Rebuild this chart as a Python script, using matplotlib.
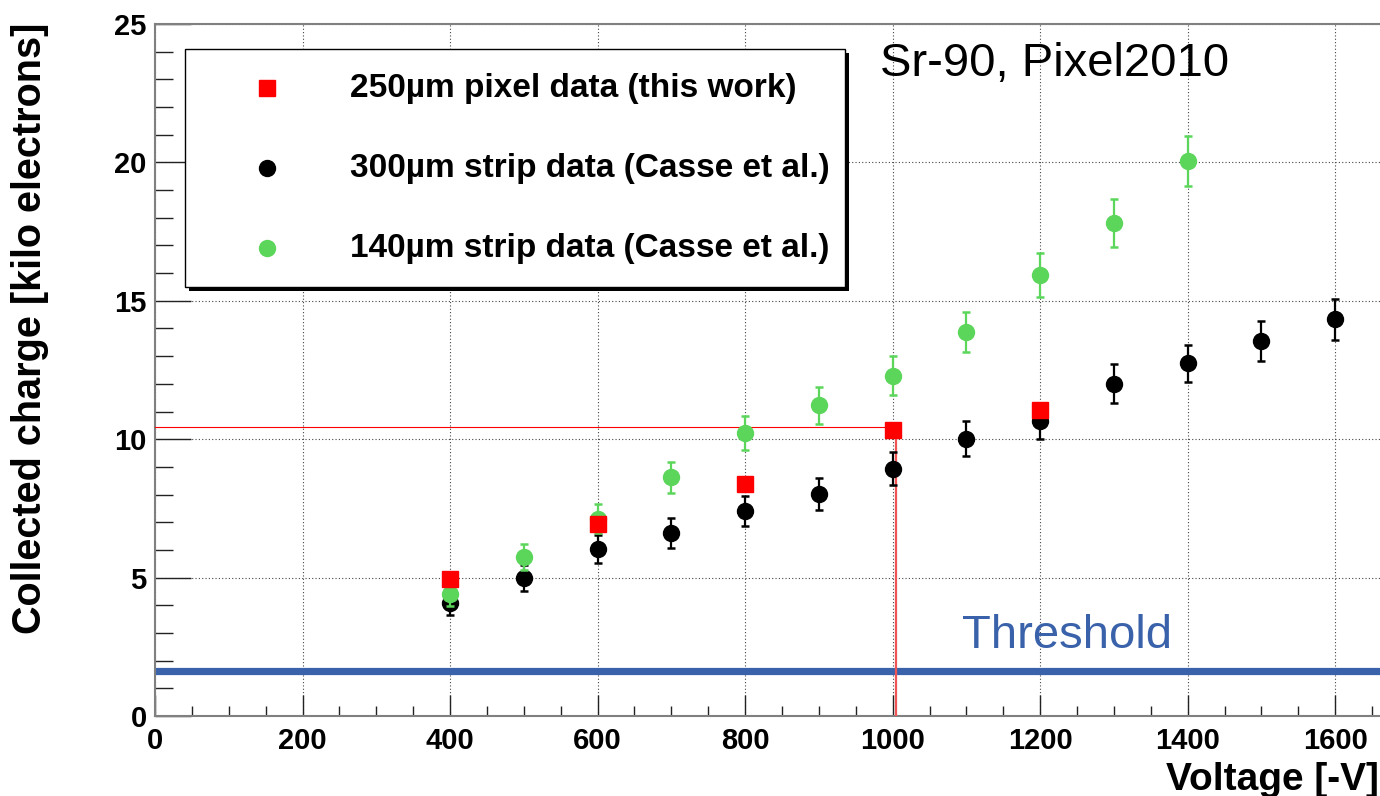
import matplotlib
matplotlib.use("Agg")
import matplotlib.pyplot as plt
from matplotlib.patches import Rectangle
from matplotlib.lines import Line2D
from matplotlib.ticker import MultipleLocator

# ---- data ----
volt_pixel = [400, 600, 800, 1000, 1200]
charge_pixel = [4.94, 6.95, 8.38, 10.32, 11.07]

volt_strip300 = [400, 500, 600, 700, 800, 900, 1000, 1100, 1200, 1300, 1400, 1500, 1600]
charge_strip300 = [4.08, 4.98, 6.03, 6.61, 7.42, 8.02, 8.94, 10.02, 10.65, 12.01, 12.74, 13.54, 14.33]
err_strip300 = [0.42, 0.48, 0.52, 0.53, 0.54, 0.57, 0.61, 0.63, 0.66, 0.69, 0.68, 0.72, 0.74]

volt_strip140 = [400, 500, 600, 700, 800, 900, 1000, 1100, 1200, 1300, 1400]
charge_strip140 = [4.40, 5.74, 7.13, 8.62, 10.23, 11.22, 12.30, 13.86, 15.93, 17.82, 20.05]
err_strip140 = [0.42, 0.48, 0.52, 0.56, 0.62, 0.66, 0.69, 0.72, 0.80, 0.86, 0.92]

threshold_ke = 1.63
marker_volt = 1005
marker_charge = 10.44

legend_labels = ["250\u00b5m pixel data (this work)",
                 "300\u00b5m strip data (Casse et al.)",
                 "140\u00b5m strip data (Casse et al.)"]

# ---- style ----
FONT = "Liberation Sans"
plt.rcParams["font.family"] = [FONT, "DejaVu Sans"]
RED = "#ff0000"
GREEN = "#5bd65b"
BLACK = "#000000"
BLUE = "#3a62aa"

W, H = 1380, 796
fig = plt.figure(figsize=(W / 100, H / 100), dpi=100)


def fx(px):
    return px / W


def fy(py):
    return 1 - py / H


ax = fig.add_axes([fx(155), fy(716), 1254 / W, (716 - 24) / H])
ax.set_xlim(0, 1700)
ax.set_ylim(0, 25)

ax.xaxis.set_major_locator(MultipleLocator(200))
ax.xaxis.set_minor_locator(MultipleLocator(50))
ax.yaxis.set_major_locator(MultipleLocator(5))
ax.yaxis.set_minor_locator(MultipleLocator(1))

ax.grid(True, which="major", color="#444444", linestyle=(0, (1, 2)), linewidth=0.8)
ax.set_axisbelow(True)

for s in ax.spines.values():
    s.set_color("#808080")
    s.set_linewidth(1.5)
ax.spines["right"].set_visible(True)

ax.tick_params(axis="both", which="both", direction="in", color="#222222", width=1.0)
ax.tick_params(axis="y", which="major", length=26, pad=6)
ax.tick_params(axis="y", which="minor", length=13)
ax.tick_params(axis="x", which="major", length=15, pad=8)
ax.tick_params(axis="x", which="minor", length=7.5)
for lab in ax.get_xticklabels() + ax.get_yticklabels():
    lab.set_fontweight("bold")
    lab.set_fontsize(21)
    lab.set_fontfamily(FONT)

# threshold line
ax.axhline(threshold_ke, color=BLUE, linewidth=5.2, zorder=2)
ax.text(1094, 2.46, "Threshold", color=BLUE, fontsize=34, fontfamily=FONT,
        ha="left", va="baseline", zorder=3)

# guide lines to the 1000 V pixel point
ax.plot([0, marker_volt], [marker_charge, marker_charge], color=RED, linewidth=0.8,
        zorder=3, clip_on=False)
ax.plot([marker_volt, marker_volt], [0, marker_charge - 0.3], color="#f05555",
        linewidth=1.6, zorder=3)

# data series
ms = 11.5
ax.errorbar(volt_strip300, charge_strip300, yerr=err_strip300, fmt="o", color=BLACK,
            markersize=ms, elinewidth=1.6, capsize=3.2, capthick=1.8, zorder=4)
ax.errorbar(volt_strip140, charge_strip140, yerr=err_strip140, fmt="o", color=GREEN,
            markersize=ms, elinewidth=1.6, capsize=3.2, capthick=1.8, zorder=5)
ax.plot(volt_pixel, charge_pixel, "s", color=RED, markersize=ms, zorder=6)

# title-like annotation
ax.text(983, 23.12, "Sr-90, Pixel2010", fontsize=34, fontfamily=FONT,
        ha="left", va="baseline", color="black", zorder=7)

# legend box with shadow
lx0, ly0, lx1, ly1 = 185, 49, 845, 287
shadow = Rectangle((fx(lx0 + 4), fy(ly1 + 4)), fx(lx1 - lx0), (ly1 - ly0) / H,
                   transform=fig.transFigure, facecolor="black", edgecolor="none", zorder=8)
box = Rectangle((fx(lx0), fy(ly1)), fx(lx1 - lx0), (ly1 - ly0) / H,
                transform=fig.transFigure, facecolor="white", edgecolor="black",
                linewidth=1.0, zorder=9)
fig.add_artist(shadow)
fig.add_artist(box)

entry_style = [("s", RED), ("o", BLACK), ("o", GREEN)]
entry_y = [88, 168, 248]
for (mk, col), yy, lab in zip(entry_style, entry_y, legend_labels):
    fig.add_artist(Line2D([fx(267)], [fy(yy)], marker=mk, color=col, markersize=ms,
                          linestyle="none", transform=fig.transFigure, zorder=10))
    fig.text(fx(350), fy(yy), lab, fontsize=24, fontweight="bold", fontfamily=FONT,
             ha="left", va="center", zorder=10)

# axis titles
fig.text(fx(30), fy(23), "Collected charge [kilo electrons]", rotation=90,
         fontsize=28.5, fontweight="bold", fontfamily=FONT, ha="center", va="top")
fig.text(fx(1379), fy(790), "Voltage [-V]", fontsize=28, fontweight="bold",
         fontfamily=FONT, ha="right", va="baseline")

fig.savefig("out.png", dpi=100)
